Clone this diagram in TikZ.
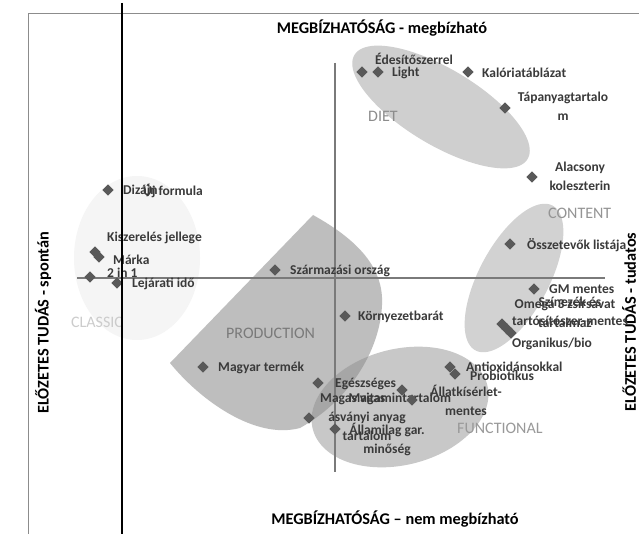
\documentclass[tikz,border=0pt]{standalone}
\usepackage{fontspec}
\setmainfont{Carlito}
\usetikzlibrary{shapes.geometric}
\definecolor{dia}{HTML}{595959}
\definecolor{lblc}{HTML}{3A3A3A}
\definecolor{dietc}{HTML}{CFCFCF}
\definecolor{contc}{HTML}{D2D2D2}
\definecolor{prodc}{HTML}{BEBEBE}
\definecolor{funcc}{HTML}{C8C8C8}
\definecolor{overc}{HTML}{A6A6A6}
\definecolor{classc}{HTML}{F5F5F5}
\definecolor{axisc}{HTML}{7A7A7A}
\definecolor{framec}{HTML}{8C8C8C}
\newcommand\myprodshape{(170,363) -- (313,215) .. controls (358,240) and (384,268) .. (382,305) .. controls (380,350) and (350,400) .. (300,428) .. controls (255,440) and (200,400) .. (170,363) -- cycle}
% rotated ellipse in screen coordinates (y down): centre, semi-axes, angle
\newcommand\myell[5]{plot[domain=0:360,samples=120,variable=\t] ({#1+#3*cos(\t)*cos(#5)-#4*sin(\t)*sin(#5)},{#2+#3*cos(\t)*sin(#5)+#4*sin(\t)*cos(#5)}) -- cycle}
\begin{document}
\begin{tikzpicture}[x=1pt,y=-1pt,
  dot/.style={diamond, fill=dia, inner sep=0pt, minimum width=11.5pt, minimum height=11.5pt},
  lbl/.style={font=\bfseries\fontsize{13.5}{19}\selectfont, text=lblc, inner sep=0pt, anchor=west},
  lblc/.style={font=\bfseries\fontsize{13.5}{19}\selectfont, text=lblc, inner sep=0pt, align=center},
  grp/.style={font=\fontsize{16}{19}\selectfont, inner sep=0pt, anchor=west},
  ttl/.style={font=\bfseries\fontsize{16.3}{19}\selectfont, text=black, inner sep=0pt}]
\useasboundingbox (0,0) rectangle (639,534);
\fill[white] (0,0) rectangle (639,534);
% group shapes
\fill[classc] \myell{137}{258}{63}{82}{0};
\fill[dietc] \myell{441}{107}{101}{38}{31};
\fill[contc] \myell{514}{278}{82}{35}{-62};
\fill[prodc] \myprodshape;
\fill[funcc] \myell{400}{407}{90}{58}{-14};
\begin{scope}
\clip \myprodshape;
\fill[overc] \myell{400}{407}{90}{58}{-14};
\end{scope}
% group labels
\node[grp, text=black!45] (gdiet) at (368,116) {DIET};
\node[grp, text=black!42] (gcont) at (548,213) {CONTENT};
\node[grp, text=black!20] (gclas) at (71,322) {CLASSIC};
\node[grp, text=black!52] (gprod) at (226,333) {PRODUCTION};
\node[grp, text=black!40] (gfunc) at (457,428) {FUNCTIONAL};
% axes
\draw[axisc, line width=1.4pt] (77,278) coordinate (hx1) -- (605,278) coordinate (hx2);
\draw[axisc, line width=1.4pt] (335,63) coordinate (vy1) -- (335,472) coordinate (vy2);
% titles
\node[ttl] (tt) at (382,28) {MEGBÍZHATÓSÁG - megbízható};
\node[ttl] (tb) at (395,519) {MEGBÍZHATÓSÁG – nem megbízható};
\node[ttl, rotate=90] (tl) at (43,323) {ELŐZETES TUDÁS - spontán};
\node[ttl, rotate=90] (tr) at (629,322) {ELŐZETES TUDÁS - tudatos};
% classic points
\node[dot] (p1) at (108,190) {};
\node[lbl] (l1a) at (123,191) {Dizájn};
\node[lbl] (l1b) at (143,191) {Új formula};
\node[lbl] (l2) at (107,238) {Kiszerelés jellege};
\node[dot] (p2) at (95,252) {};
\node[dot] (p3) at (99,257) {};
\node[lbl] (l3) at (113,260) {Márka};
\node[dot] (p4) at (90,277) {};
\node[lbl] (l4) at (107,273) {2 in 1};
\node[dot] (p5) at (117,283) {};
\node[lbl] (l5) at (132,284) {Lejárati idő};
% diet points
\node[dot] (p7) at (362,72) {};
\node[dot] (p8) at (378,72) {};
\node[lbl] (l7) at (375,59) {Édesítőszerrel};
\node[lbl] (l8) at (392,73) {Light};
\node[dot] (p9) at (468,72) {};
\node[lbl] (l9) at (482,73) {Kalóriatáblázat};
\node[dot] (p10) at (505,108) {};
\node[lblc] (l10) at (563,106) {Tápanyagtartalo\\m};
\node[dot] (p11) at (532,177) {};
\node[lblc] (l11) at (580,176) {Alacsony\\koleszterin};
% content points
\node[dot] (p12) at (510,244) {};
\node[lbl] (l12) at (527,245) {Összetevők listája};
\node[dot] (p13) at (534,289) {};
\node[lbl] (l13) at (549,289) {GM mentes};
\node[dot] (p14) at (502,324) {};
\node[dot] (p15) at (507,329) {};
\node[dot] (p16) at (511,333) {};
\node[lblc] (l14) at (565,313) {Omega 3 zsírsavat\\tartalmaz};
\node[lblc] (l15) at (570,311) {Színezék és\\tartósítószer-mentes};
\node[lbl] (l16) at (512,344) {Organikus/bio};
% production points
\node[dot] (p17) at (275,270) {};
\node[lbl] (l17) at (290,271) {Származási ország};
\node[dot] (p18) at (345,316) {};
\node[lbl] (l18) at (358,317) {Környezetbarát};
\node[dot] (p19) at (203,367) {};
\node[lbl] (l19) at (218,368) {Magyar termék};
% functional points
\node[dot] (p20) at (318,383) {};
\node[lbl] (l20) at (335,384) {Egészséges};
\node[lbl] (l20b) at (320,399) {Magas vitamintartalom};
\node[dot] (p21) at (309,418) {};
\node[lblc] (l21) at (367,417) {Magas\\ásványi anyag\\tartalom};
\node[dot] (p22) at (335,429) {};
\node[lblc] (l22) at (387,439) {Államilag gar.\\minőség};
\node[dot] (p23) at (402,390) {};
\node[dot] (p24) at (412,400) {};
\node[lblc] (l23) at (466,400) {Állatkísérlet-\\mentes};
\node[dot] (p25) at (450,367) {};
\node[dot] (p26) at (455,374) {};
\node[lbl] (l25) at (466,367) {Antioxidánsokkal};
\node[lbl] (l26) at (470,376) {Probiotikus};
% frame
\draw[framec, line width=1pt] (28,534) coordinate (f1) -- (28,14) coordinate (f2) -- (639,14) coordinate (f3);
\draw[black, line width=1.5pt] (122,3) coordinate (k1) -- (122,534) coordinate (k2);
\end{tikzpicture}
\end{document}
